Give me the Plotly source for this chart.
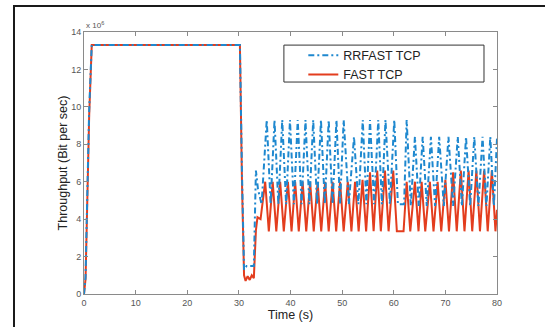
import plotly.graph_objects as go

# ---------------- data (throughput in units of 1e6 bit/s) ----------------
# FAST TCP: start-up, drop, recovery shoulder
fast_t_pre = [0, 0.3, 0.6, 1.0, 1.5, 30.2, 30.6, 31.0, 31.3, 31.7, 32.1, 32.5, 32.9, 33.3, 33.6, 34.2]
fast_v_pre = [0, 0.8, 4.5, 9.5, 13.3, 13.3, 6.0, 1.0, 0.7, 0.95, 0.75, 1.0, 0.85, 3.4, 4.1, 4.0]
# FAST TCP oscillation: peaks followed by troughs
fast_peak_t = [35.1, 36.55, 38.0, 39.5, 40.9, 42.35, 43.8, 45.25, 46.7, 48.15, 49.6, 51.1,
               52.5, 53.95, 55.4, 56.8, 58.3, 59.9, 62.5, 64.1, 65.4, 67.0, 68.5, 70.0,
               71.5, 73.0, 74.5, 76.0, 77.5, 79.0]
fast_peak_v = [6.0, 6.0, 6.0, 6.0, 6.0, 6.0, 6.0, 6.0, 6.0, 6.0, 6.0, 6.0,
               6.0, 6.1, 6.5, 6.6, 6.6, 6.6, 6.0, 6.0, 6.0, 6.0, 6.0, 6.1,
               6.5, 6.6, 6.6, 6.6, 6.6, 6.6]
fast_trough_t = [35.8, 37.25, 38.7, 40.2, 41.6, 43.05, 44.5, 45.95, 47.4, 48.85, 50.3, 51.8,
                 53.2, 54.65, 56.1, 57.5, 59.0, 60.6, 63.2, 64.8, 66.1, 67.7, 69.2, 70.7,
                 72.2, 73.7, 75.2, 76.7, 78.2, 79.7]
fast_trough_v = [3.35, 3.35, 3.35, 3.35, 3.35, 3.35, 3.35, 3.35, 3.35, 3.35, 3.35, 3.35,
                 3.35, 3.35, 3.35, 3.35, 3.35, 3.35, 3.35, 3.35, 3.35, 3.35, 3.35, 3.35,
                 3.35, 3.35, 3.35, 3.35, 3.35, 3.35]
fast_t_post = [61.9, 80.0]
fast_v_post = [3.35, 4.5]

# RRFAST TCP
rr_t_pre = [0, 0.3, 0.6, 1.0, 1.5, 30.2, 30.6, 31.0, 31.5, 32.0, 32.9, 33.3, 33.7, 34.4]
rr_v_pre = [0, 0.9, 4.8, 9.8, 13.3, 13.3, 6.5, 1.3, 1.5, 1.5, 1.5, 6.6, 5.6, 4.8]
rr_peak_t = [35.4, 36.9, 38.4, 39.9, 41.4, 42.9, 44.4, 45.9, 47.4, 48.9, 50.3,
             52.3, 54.0, 55.4, 57.0, 58.4, 60.1, 62.5,
             64.1, 65.6, 67.2, 68.8, 70.6, 72.4, 74.0, 75.6, 77.2, 78.7]
rr_peak_v = [9.3, 9.3, 9.3, 9.3, 9.3, 9.3, 9.3, 9.3, 9.3, 9.3, 9.3,
             8.4, 9.3, 9.3, 9.3, 9.3, 9.3, 9.3,
             8.4, 8.4, 8.4, 8.4, 8.4, 8.4, 8.4, 8.4, 8.4, 8.4]
rr_trough_t = [36.15, 37.65, 39.15, 40.65, 42.15, 43.65, 45.15, 46.65, 48.15, 49.6, 51.3,
               53.15, 54.7, 56.2, 57.7, 59.25, 60.8, 63.3,
               64.85, 66.4, 68.0, 69.7, 71.5, 73.2, 74.8, 76.4, 77.95, 79.4]
rr_trough_v = [4.8, 4.8, 4.8, 4.8, 4.8, 4.8, 4.8, 4.8, 4.8, 4.8, 4.8,
               4.8, 4.8, 4.8, 4.8, 4.8, 4.8, 4.7,
               4.7, 4.7, 4.7, 4.7, 4.7, 4.7, 4.7, 4.7, 4.7, 4.7]
rr_t_post = [62.0, 80.0]
rr_v_post = [4.8, 8.3]

x_ticks = [0, 10, 20, 30, 40, 50, 60, 70, 80]
y_ticks = [0, 2, 4, 6, 8, 10, 12, 14]


def build(pre_t, pre_v, pk_t, pk_v, tr_t, tr_v, post_t, post_v):
    pts = list(zip(pre_t, pre_v))
    for a, b, c, d in zip(pk_t, pk_v, tr_t, tr_v):
        pts.append((a, b))
        pts.append((c, d))
    pts += list(zip(post_t, post_v))
    pts.sort(key=lambda p: p[0])
    return [p[0] for p in pts], [p[1] for p in pts]


fx, fy = build(fast_t_pre, fast_v_pre, fast_peak_t, fast_peak_v,
               fast_trough_t, fast_trough_v, fast_t_post, fast_v_post)
rx, ry = build(rr_t_pre, rr_v_pre, rr_peak_t, rr_peak_v,
               rr_trough_t, rr_trough_v, rr_t_post, rr_v_post)

BLUE = "#1E88CF"
RED = "#E33D1E"
FONT = "Liberation Sans, Arial, sans-serif"

fig = go.Figure()
fig.add_trace(go.Scatter(x=fx, y=fy, mode="lines", name="FAST TCP",
                         line=dict(color=RED, width=2), legendrank=2))
fig.add_trace(go.Scatter(x=rx, y=ry, mode="lines", name="RRFAST TCP",
                         line=dict(color=BLUE, width=2, dash="6px,3px,2px,3px"),
                         legendrank=1))

axis_common = dict(showline=True, linecolor="#8a8a8a", linewidth=1, mirror="ticks",
                   ticks="inside", ticklen=4, tickcolor="#8a8a8a",
                   showgrid=False, zeroline=False, automargin=False,
                   tickfont=dict(family=FONT, size=9, color="#555555"))

fig.update_xaxes(range=[0, 80], tickvals=x_ticks, **axis_common,
                 title=dict(text="Time (s)", standoff=2,
                            font=dict(family=FONT, size=12.5, color="#222222")))
fig.update_yaxes(range=[0, 14], tickvals=y_ticks, **axis_common,
                 title=dict(text="Throughput (Bit per sec)", standoff=0,
                            font=dict(family=FONT, size=12.5, color="#222222")))

fig.update_layout(
    width=545, height=327,
    margin=dict(l=84, r=48, t=32, b=33),
    paper_bgcolor="white", plot_bgcolor="white",
    showlegend=True,
    legend=dict(x=0.531, y=0.967, xanchor="left", yanchor="top",
                bgcolor="rgba(0,0,0,0)", borderwidth=0,
                font=dict(family=FONT, size=12.5, color="#222222"),
                tracegroupgap=0),
    shapes=[
        # legend box
        dict(type="rect", xref="paper", yref="paper", x0=0.484, x1=0.9685, y0=0.809, y1=0.950,
             line=dict(color="#333333", width=1), fillcolor="white", layer="below"),
        # outer frame
        dict(type="rect", xref="paper", yref="paper", x0=-0.1695, x1=1.4, y0=-0.5, y1=1.099,
             line=dict(color="#1a1a1a", width=2), fillcolor="rgba(0,0,0,0)", layer="above"),
    ],
    annotations=[
        dict(text="x 10<sup>6</sup>", xref="paper", yref="paper", x=0, y=1,
             xanchor="left", yanchor="bottom", showarrow=False, yshift=0,
             font=dict(family=FONT, size=8, color="#555555")),
    ],
)

fig.write_html("out.html")
